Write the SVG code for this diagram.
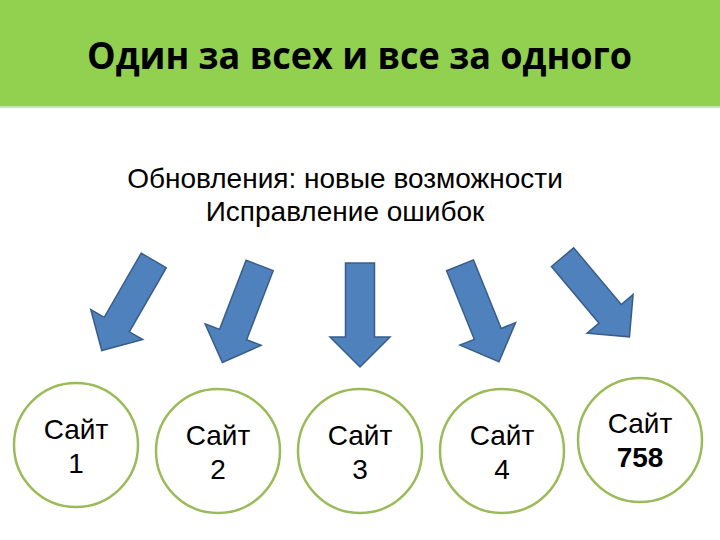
<svg xmlns="http://www.w3.org/2000/svg" width="720" height="540" viewBox="0 0 720 540">
<style>
.title{font-family:"Open Sans","Liberation Sans",sans-serif;font-weight:700;font-size:38px;fill:#000}
.sub{font-family:"Liberation Sans",Arial,sans-serif;font-size:28px;fill:#000}
.site{fill:#fff;stroke:#9BBB59;stroke-width:2.5}
.lbl{font-family:"Liberation Sans",Arial,sans-serif;font-size:28px;fill:#000;text-anchor:middle}
.arrow{fill:#4F81BD;stroke:#385D8A;stroke-width:1.5;stroke-linejoin:miter}
</style>
<defs>
<polygon id="arr" points="-14.5,-52 14.5,-52 14.5,22 30,22 0,52 -30,22 -14.5,22"/>
</defs>
<rect x="0" y="0" width="720" height="540" fill="#fff"/>
<g id="header">
<rect x="0" y="0" width="720" height="106" fill="#92D050"/>
<rect x="0" y="106" width="720" height="2" fill="#C9E6A6"/>
<text class="title" x="87" y="69" textLength="545" lengthAdjust="spacingAndGlyphs">Один за всех и все за одного</text>
</g>
<g id="source">
<text class="sub" x="345" y="188" text-anchor="middle">Обновления: новые возможности</text>
<text class="sub" x="345" y="221" text-anchor="middle">Исправление ошибок</text>
</g>
<g id="connectors">
<use href="#arr" class="arrow" transform="translate(127.75 305.5) rotate(30)"/>
<use href="#arr" class="arrow" transform="translate(241 314) rotate(21)"/>
<use href="#arr" class="arrow" transform="translate(360 315)"/>
<use href="#arr" class="arrow" transform="translate(479.5 313.5) rotate(-22)"/>
<use href="#arr" class="arrow" transform="translate(596 297) rotate(-40)"/>
</g>
<g id="site1">
<circle class="site" cx="76" cy="445" r="62"/>
<text class="lbl" x="76" y="439">Сайт</text>
<text class="lbl" x="76" y="473">1</text>
</g>
<g id="site2">
<circle class="site" cx="218" cy="451" r="62"/>
<text class="lbl" x="218" y="445">Сайт</text>
<text class="lbl" x="218" y="479">2</text>
</g>
<g id="site3">
<circle class="site" cx="360" cy="451" r="62"/>
<text class="lbl" x="360" y="445">Сайт</text>
<text class="lbl" x="360" y="479">3</text>
</g>
<g id="site4">
<circle class="site" cx="502" cy="451" r="62"/>
<text class="lbl" x="502" y="445">Сайт</text>
<text class="lbl" x="502" y="479">4</text>
</g>
<g id="site758">
<circle class="site" cx="640" cy="440" r="62"/>
<text class="lbl" x="640" y="433">Сайт</text>
<text class="lbl" x="640" y="467" font-weight="700">758</text>
</g>
</svg>
